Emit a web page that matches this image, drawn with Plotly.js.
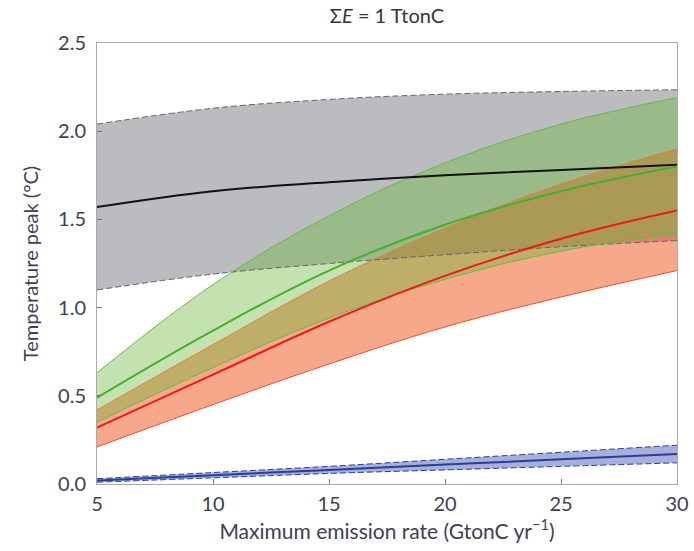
<!DOCTYPE html>
<html>
<head>
<meta charset="utf-8">
<script src="https://cdn.plot.ly/plotly-3.0.1.min.js"></script>
<style>html,body{margin:0;padding:0;background:#fff;}#chart{width:694px;height:551px;}</style>
</head>
<body>
<div id="chart"></div>
<script>
// Maximum emission rate (GtonC/yr)
const emissionRate = [5, 10, 15, 20, 25, 30];

// Grey scenario
const greyLower = [1.10, 1.19, 1.25, 1.30, 1.345, 1.38];
const greyMid   = [1.57, 1.66, 1.71, 1.75, 1.78, 1.81];
const greyUpper = [2.04, 2.13, 2.18, 2.21, 2.225, 2.235];

// Red scenario
const redLower = [0.21, 0.45, 0.68, 0.89, 1.06, 1.21];
const redMid   = [0.32, 0.62, 0.92, 1.18, 1.39, 1.55];
const redUpper = [0.42, 0.79, 1.15, 1.45, 1.70, 1.90];

// Green scenario
const greenLower = [0.35, 0.66, 0.94, 1.16, 1.32, 1.42];
const greenMid   = [0.49, 0.87, 1.21, 1.47, 1.66, 1.80];
const greenUpper = [0.63, 1.13, 1.52, 1.82, 2.04, 2.19];

// Blue scenario
const blueLower = [0.01, 0.035, 0.06, 0.08, 0.10, 0.12];
const blueMid   = [0.02, 0.05, 0.08, 0.11, 0.14, 0.17];
const blueUpper = [0.03, 0.065, 0.10, 0.14, 0.18, 0.22];

const yTicks = [0.0, 0.5, 1.0, 1.5, 2.0, 2.5];
const xTicks = [5, 10, 15, 20, 25, 30];

const SM = 1.1;
function fillPair(lower, upper, fillColor) {
  return [
    {x: emissionRate, y: lower, type: 'scatter', mode: 'lines',
     line: {width: 0, shape: 'spline', smoothing: SM}, hoverinfo: 'skip'},
    {x: emissionRate, y: upper, type: 'scatter', mode: 'lines', fill: 'tonexty', fillcolor: fillColor,
     line: {width: 0, shape: 'spline', smoothing: SM}, hoverinfo: 'skip'}
  ];
}
function lineTrace(y, style) {
  return {x: emissionRate, y: y, type: 'scatter', mode: 'lines',
          line: Object.assign({shape: 'spline', smoothing: SM}, style)};
}

const traces = [].concat(
  fillPair(greyLower, greyUpper, 'rgba(120,122,130,0.5)'),
  fillPair(redLower, redUpper, 'rgba(239,81,21,0.5)'),
  fillPair(greenLower, greenUpper, 'rgba(108,182,57,0.4)'),
  fillPair(blueLower, blueUpper, 'rgba(60,80,180,0.45)'),
  [
    lineTrace(greyUpper, {color: '#666', width: 1, dash: '6px,3px'}),
    lineTrace(greyLower, {color: '#666', width: 1, dash: '6px,3px'}),
    lineTrace(redUpper, {color: '#e0803a', width: 1}),
    lineTrace(redLower, {color: '#f04a3a', width: 1}),
    lineTrace(greenUpper, {color: '#66bb44', width: 1}),
    lineTrace(greenLower, {color: '#66bb44', width: 1}),
    lineTrace(blueUpper, {color: '#2a3e98', width: 1, dash: '6px,3px'}),
    lineTrace(blueLower, {color: '#2a3e98', width: 1, dash: '6px,3px'}),
    lineTrace(greyMid, {color: '#111', width: 2}),
    lineTrace(greenMid, {color: '#46b02e', width: 2}),
    lineTrace(redMid, {color: '#e81e16', width: 2}),
    lineTrace(blueMid, {color: '#2a3e98', width: 2})
  ]
);

const FONT = 'Lato, "Noto Sans", sans-serif';
const tickFont = {family: FONT, size: 20, color: '#404052'};
const layout = {
  width: 694, height: 551,
  margin: {l: 97, r: 17, t: 43, b: 67, pad: 0},
  paper_bgcolor: '#fff', plot_bgcolor: '#fff',
  showlegend: false,
  title: {text: 'Σ<i>E</i> = 1 TtonC', x: 0.5576, xanchor: 'center', y: 0.971, yanchor: 'middle',
          font: {family: FONT, size: 20, color: '#333340'}},
  xaxis: {
    range: [5, 30], tickvals: xTicks, ticktext: xTicks.map(String),
    ticks: 'inside', ticklen: 5, tickcolor: '#777', tickwidth: 1,
    showline: true, linecolor: '#aaa', linewidth: 1, mirror: true,
    showgrid: false, zeroline: false, tickfont: tickFont, ticklabelstandoff: 2,
    title: {text: 'Maximum emission rate (GtonC yr<sup>−1</sup>)', standoff: 9,
            font: {family: FONT, size: 21, color: '#404052'}}
  },
  yaxis: {
    range: [0, 2.5], tickvals: yTicks, ticktext: yTicks.map(v => v.toFixed(1)),
    ticks: 'inside', ticklen: 5, tickcolor: '#777', tickwidth: 1,
    showline: true, linecolor: '#aaa', linewidth: 1, mirror: true,
    showgrid: false, zeroline: false, tickfont: tickFont, ticklabelstandoff: 6,
    title: {text: 'Temperature peak (°C)', standoff: 14,
            font: {family: FONT, size: 20, color: '#404052'}}
  }
};

Plotly.newPlot('chart', traces, layout, {displayModeBar: false, staticPlot: true});
</script>
</body>
</html>
